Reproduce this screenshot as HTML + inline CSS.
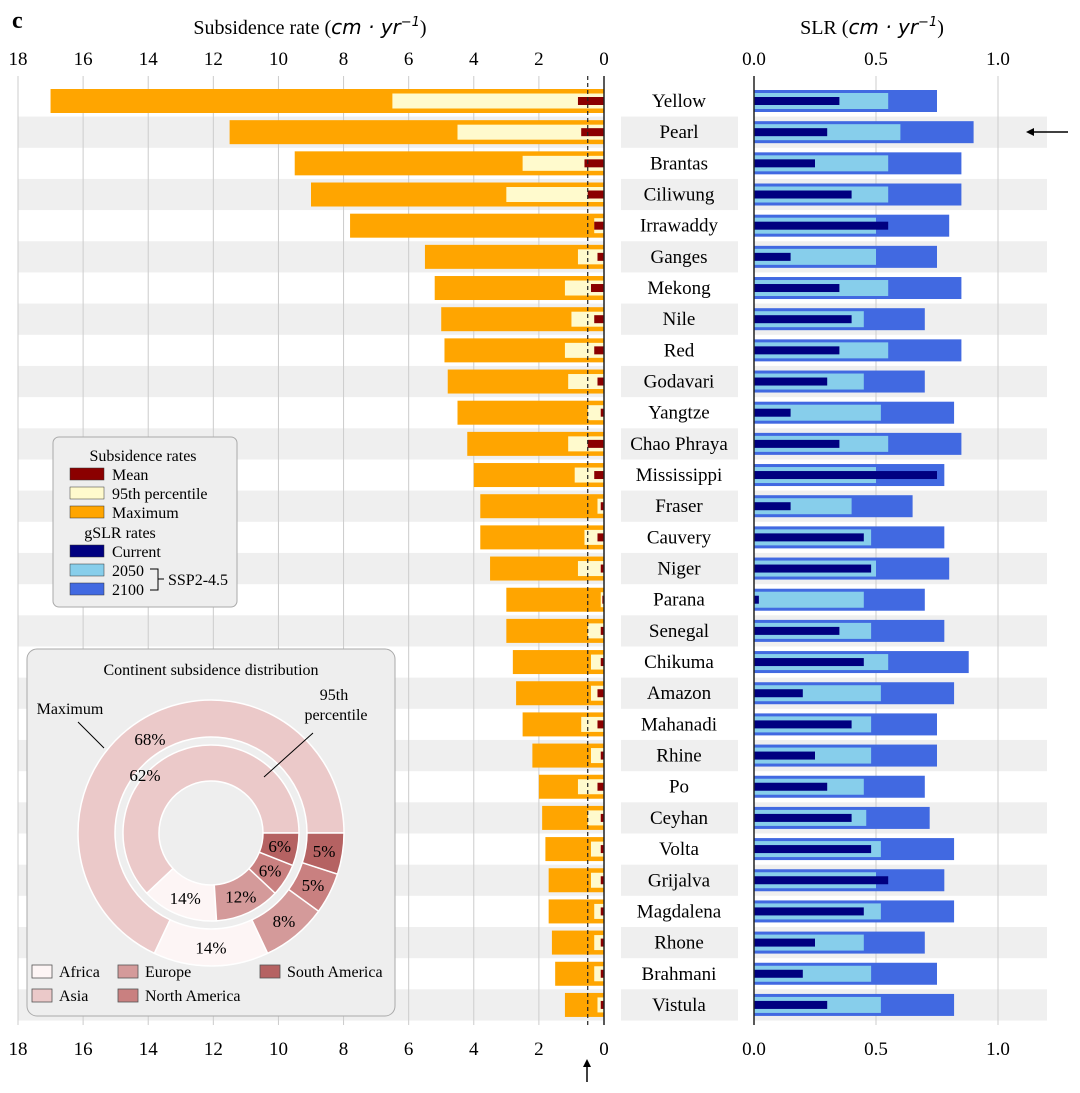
<!DOCTYPE html>
<html><head><meta charset="utf-8"><style>
body{margin:0;background:#fff}
svg{display:block;font-family:"Liberation Serif",serif}
</style></head><body>
<svg id="c" width="1080" height="1093" viewBox="0 0 1080 1093" xmlns="http://www.w3.org/2000/svg">
<g id="bg"></g><g id="grid"></g><g id="bars"></g><g id="txt"></g>
</svg>
<script>
const deltas=["Yellow","Pearl","Brantas","Ciliwung","Irrawaddy","Ganges","Mekong","Nile","Red","Godavari","Yangtze","Chao Phraya","Mississippi","Fraser","Cauvery","Niger","Parana","Senegal","Chikuma","Amazon","Mahanadi","Rhine","Po","Ceyhan","Volta","Grijalva","Magdalena","Rhone","Brahmani","Vistula"];
const subMax=[17,11.5,9.5,9.0,7.8,5.5,5.2,5.0,4.9,4.8,4.5,4.2,4.0,3.8,3.8,3.5,3.0,3.0,2.8,2.7,2.5,2.2,2.0,1.9,1.8,1.7,1.7,1.6,1.5,1.2];
const subP95=[6.5,4.5,2.5,3.0,0.3,0.8,1.2,1.0,1.2,1.1,0.5,1.1,0.9,0.2,0.6,0.8,0.1,0.5,0.4,0.4,0.7,0.4,0.8,0.5,0.4,0.4,0.3,0.3,0.3,0.2];
const subMean=[0.8,0.7,0.6,0.5,0.3,0.2,0.4,0.3,0.3,0.2,0.1,0.5,0.3,0.1,0.2,0.1,0.05,0.1,0.1,0.2,0.2,0.1,0.2,0.1,0.1,0.1,0.1,0.1,0.1,0.1];
const slr2100=[0.75,0.9,0.85,0.85,0.8,0.75,0.85,0.7,0.85,0.7,0.82,0.85,0.78,0.65,0.78,0.8,0.7,0.78,0.88,0.82,0.75,0.75,0.7,0.72,0.82,0.78,0.82,0.7,0.75,0.82];
const slr2050=[0.55,0.6,0.55,0.55,0.5,0.5,0.55,0.45,0.55,0.45,0.52,0.55,0.5,0.4,0.48,0.5,0.45,0.48,0.55,0.52,0.48,0.48,0.45,0.46,0.52,0.5,0.52,0.45,0.48,0.52];
const slrNow=[0.35,0.3,0.25,0.4,0.55,0.15,0.35,0.4,0.35,0.3,0.15,0.35,0.75,0.15,0.45,0.48,0.02,0.35,0.45,0.2,0.4,0.25,0.3,0.4,0.48,0.55,0.45,0.25,0.2,0.3];
const subTicks=[18,16,14,12,10,8,6,4,2,0];
const slrTicks=["0.0","0.5","1.0"];
const pieLabels=["Asia","Africa","Europe","North America","South America"];
const pieMax=[68,14,8,5,5];
const pie95=[62,14,12,6,6];

const NS="http://www.w3.org/2000/svg";
function el(p,t,a,txt){const e=document.createElementNS(NS,t);for(const k in a)e.setAttribute(k,a[k]);if(txt!=null)e.textContent=txt;p.appendChild(e);return e;}
const xs=v=>604-v*(586/18);
const xr=v=>754+v*244;
const yr=i=>101+i*31.17;
const bg=document.getElementById('bg'),grid=document.getElementById('grid'),bars=document.getElementById('bars'),txt=document.getElementById('txt');

deltas.forEach((d,i)=>{ if(i%2==1){
 let r=el(bg,'rect',{x:18,y:yr(i)-15.6,width:586,height:31.2,fill:'#efefef'});
 
 el(bg,'rect',{x:621,y:yr(i)-15.6,width:117,height:31.2,fill:'#efefef'});
 el(bg,'rect',{x:754,y:yr(i)-15.6,width:293,height:31.2,fill:'#efefef'});
}});
subTicks.forEach(t=>{
 el(grid,'line',{x1:xs(t),x2:xs(t),y1:76,y2:1025,stroke:'#cccccc','stroke-width':1});
 let a=el(txt,'text',{x:xs(t),y:65,'text-anchor':'middle','font-size':19},t);
 
 el(txt,'text',{x:xs(t),y:1055,'text-anchor':'middle','font-size':19},t);
});
slrTicks.forEach(t=>{
 const x=xr(+t);
 if(+t>0) el(grid,'line',{x1:x,x2:x,y1:76,y2:1025,stroke:'#cccccc','stroke-width':1});
 let a=el(txt,'text',{x:x,y:65,'text-anchor':'middle','font-size':19},t);
 
 el(txt,'text',{x:x,y:1055,'text-anchor':'middle','font-size':19},t);
});
deltas.forEach((d,i)=>{
 const y=yr(i);
 let b=el(bars,'rect',{x:xs(subMax[i]),y:y-12,width:604-xs(subMax[i]),height:24,fill:'#ffa500'});
 
 b=el(bars,'rect',{x:xs(subP95[i]),y:y-7.5,width:604-xs(subP95[i]),height:15,fill:'#fffacd'});
 
 b=el(bars,'rect',{x:xs(subMean[i]),y:y-4,width:604-xs(subMean[i]),height:8,fill:'#8b0000'});
 
 b=el(bars,'rect',{x:754,y:y-11,width:xr(slr2100[i])-754,height:22,fill:'#4169e1'});
 
 b=el(bars,'rect',{x:754,y:y-8,width:xr(slr2050[i])-754,height:16,fill:'#87ceeb'});
 
 b=el(bars,'rect',{x:754,y:y-4,width:xr(slrNow[i])-754,height:8,fill:'#000080'});
 
 let t=el(txt,'text',{x:679,y:y+6,'text-anchor':'middle','font-size':19},d);
 
});
el(bars,'line',{x1:604,x2:604,y1:76,y2:1025,stroke:'#222','stroke-width':1.5});
el(bars,'line',{x1:754,x2:754,y1:76,y2:1025,stroke:'#222','stroke-width':1.5});
el(bars,'line',{x1:xs(0.5),x2:xs(0.5),y1:76,y2:1025,stroke:'#222','stroke-width':1.2,'stroke-dasharray':'4,3'});
</script>
<svg width="1080" height="1093" style="position:absolute;left:0;top:0" xmlns="http://www.w3.org/2000/svg" font-family="Liberation Serif, serif">
<text x="12" y="28" font-size="24" font-weight="bold">c</text>
<text x="310" y="34" font-size="20" text-anchor="middle">Subsidence rate (<tspan font-family="DejaVu Sans" font-style="italic">cm · yr</tspan><tspan font-family="DejaVu Sans" font-style="italic" font-size="13" dy="-8">−1</tspan><tspan dy="8">)</tspan></text>
<text x="872" y="34" font-size="20" text-anchor="middle">SLR (<tspan font-family="DejaVu Sans" font-style="italic">cm · yr</tspan><tspan font-family="DejaVu Sans" font-style="italic" font-size="13" dy="-8">−1</tspan><tspan dy="8">)</tspan></text>
<g><line x1="1068" y1="132" x2="1030" y2="132" stroke="#000" stroke-width="1.5"/><path d="M1026 132 l8 -4 v8z" fill="#000"/></g>
<g><line x1="587" y1="1082" x2="587" y2="1064" stroke="#000" stroke-width="1.5"/><path d="M587 1059 l-4 8 h8z" fill="#000"/></g>
<g>
<rect x="53" y="437" width="184" height="170" rx="6" fill="#eeeeee" stroke="#aaaaaa"/>
<text x="143" y="461" font-size="16" text-anchor="middle">Subsidence rates</text>
<rect x="70" y="468" width="34" height="12" fill="#8b0000" stroke="#333" stroke-width=".5"/><text x="112" y="480" font-size="16">Mean</text>
<rect x="70" y="487" width="34" height="12" fill="#fffacd" stroke="#333" stroke-width=".5"/><text x="112" y="499" font-size="16">95th percentile</text>
<rect x="70" y="506" width="34" height="12" fill="#ffa500" stroke="#333" stroke-width=".5"/><text x="112" y="518" font-size="16">Maximum</text>
<text x="120" y="538" font-size="16" text-anchor="middle">gSLR rates</text>
<rect x="70" y="545" width="34" height="12" fill="#000080" stroke="#333" stroke-width=".5"/><text x="112" y="557" font-size="16">Current</text>
<rect x="70" y="564" width="34" height="12" fill="#87ceeb" stroke="#333" stroke-width=".5"/><text x="112" y="576" font-size="16">2050</text>
<rect x="70" y="583" width="34" height="12" fill="#4169e1" stroke="#333" stroke-width=".5"/><text x="112" y="595" font-size="16">2100</text>
<path d="M150 569 h8 v21 h-8 M158 579 h6" fill="none" stroke="#000"/>
<text x="168" y="585" font-size="16">SSP2-4.5</text>
</g>
<g>
<rect x="27" y="649" width="368" height="367" rx="10" fill="#eeeeee" stroke="#aaaaaa"/>
<text x="211" y="675" font-size="16" text-anchor="middle">Continent subsidence distribution</text>
<g id="donut"></g>
<text x="70" y="714" font-size="16" text-anchor="middle">Maximum</text>
<line x1="78" y1="722" x2="104" y2="748" stroke="#000"/>
<text x="334" y="700" font-size="16" text-anchor="middle">95th</text>
<text x="336" y="720" font-size="16" text-anchor="middle">percentile</text>
<line x1="313" y1="733" x2="264" y2="777" stroke="#000"/>
<g id="pleg"></g>
</g>
</svg>
<script>
(function(){
const NS="http://www.w3.org/2000/svg";
const cols=["#ebc9c9","#fdf5f5","#d49a9a","#c98080","#b56262"];
const g=document.getElementById('donut');
const cx=211,cy=833;
function arc(r0,r1,a0,a1){
 const p=(r,a)=>[cx+r*Math.cos(a*Math.PI/180),cy-r*Math.sin(a*Math.PI/180)];
 const L=(a1-a0)>180?1:0;
 const [x1,y1]=p(r1,a0),[x2,y2]=p(r1,a1),[x3,y3]=p(r0,a1),[x4,y4]=p(r0,a0);
 return `M${x1} ${y1} A${r1} ${r1} 0 ${L} 0 ${x2} ${y2} L${x3} ${y3} A${r0} ${r0} 0 ${L} 1 ${x4} ${y4}Z`;
}
function ring(vals,r0,r1,nm){
 let a=0;const tot=vals.reduce((s,v)=>s+v,0);
 vals.forEach((v,i)=>{
  const a1=a+v/tot*360;
  const e=document.createElementNS(NS,'path');
  e.setAttribute('d',arc(r0,r1,a,a1));e.setAttribute('fill',cols[i]);e.setAttribute('stroke','#fff');e.setAttribute('stroke-width','1.5');
  
  
  g.appendChild(e);
  const m=(a+a1)/2*Math.PI/180,rm=(r0+r1)/2;
  let lx=cx+rm*Math.cos(m),ly=cy-rm*Math.sin(m);
  if(i==0){lx=nm=='outer'?150:145;ly=nm=='outer'?739:775;}
  const t=document.createElementNS(NS,'text');
  t.setAttribute('x',lx);t.setAttribute('y',ly+6);t.setAttribute('text-anchor','middle');t.setAttribute('font-size','17');
  t.textContent=v+'%';
  
  
  g.appendChild(t);
  a=a1;
 });
}
ring(pieMax,96,133,'outer');
ring(pie95,52,88,'inner');
const pl=document.getElementById('pleg');
const pos=[[32,989],[32,965],[118,965],[118,989],[260,965]];
pieLabels.forEach((n,i)=>{
 const [x,y]=pos[i];
 const r=document.createElementNS(NS,'rect');
 r.setAttribute('x',x);r.setAttribute('y',y);r.setAttribute('width',20);r.setAttribute('height',13);r.setAttribute('fill',cols[i]);r.setAttribute('stroke','#555');r.setAttribute('stroke-width','.8');
 
 
 pl.appendChild(r);
 const t=document.createElementNS(NS,'text');
 t.setAttribute('x',x+27);t.setAttribute('y',y+12);t.setAttribute('font-size','16');t.textContent=n;
 
 
 pl.appendChild(t);
});
})();
</script>
</body></html>
